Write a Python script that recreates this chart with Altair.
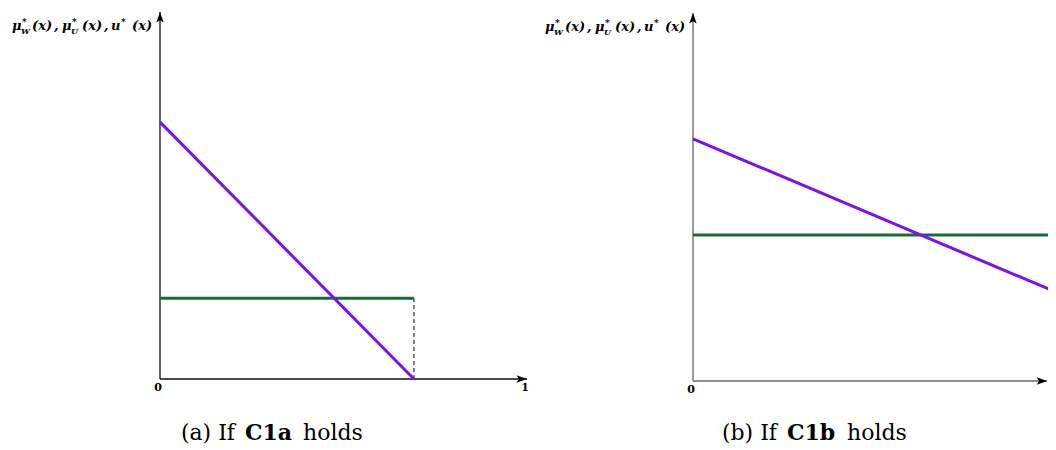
import altair as alt
import pandas as pd

# ---------------- data ----------------
# Panel (a): "If C1a holds"
a_purple_x = [0.0, 0.692]
a_purple_y = [0.700, 0.0]
a_green_x = [0.0, 0.692]
a_green_y = [0.220, 0.220]
a_dash_x = [0.692, 0.692]
a_dash_y = [0.0, 0.220]
a_tick_values = [0, 1]
a_tick_labels = ["0", "1"]
a_caption = ["(a) If", "C1a", "holds"]
a_axis_end = [1.0, 1.0]

# Panel (b): "If C1b holds"
b_purple_x = [0.0, 1.0]
b_purple_y = [0.658, 0.237]
b_green_x = [0.0, 1.0]
b_green_y = [0.397, 0.397]
b_tick_values = [0]
b_tick_labels = ["0"]
b_caption = ["(b) If", "C1b", "holds"]
b_axis_end = [0.965, 1.0]

# y-axis title pieces: (text, kind) kind: main / sup / sub
ytitle_pieces = [
    ("μ", "main"), ("*", "sup"), ("W", "sub"), ("(x)", "main"), (",", "main"),
    ("μ", "main"), ("*", "sup"), ("U", "sub"), ("(x)", "main"), (",", "main"),
    ("u", "main"), ("*", "sup"), ("(x)", "main"),
]
# horizontal offsets (px) of each piece from the y axis
ytitle_dx = [-148, -138, -139, -128, -106, -98, -88, -89, -78, -56, -49, -39, -28]

PURPLE = "#7A12EE"
GREEN = "#1B6B3A"
SERIF = "DejaVu Serif"
ARROW = "M0,0L0.7,2L0,1.55L-0.7,2Z"


def make_scales(width, height, ox, oy, sx, sy):
    xs = alt.Scale(domain=[-ox / sx, (width - ox) / sx], nice=False, zero=False)
    ys = alt.Scale(domain=[-(height - oy) / sy, oy / sy], nice=False, zero=False)
    return xs, ys


def seg(x, y, xs, ys, **style):
    df = pd.DataFrame({"x": [x[0]], "y": [y[0]], "x2": [x[1]], "y2": [y[1]]})
    return alt.Chart(df).mark_rule(clip=True, **style).encode(
        x=alt.X("x:Q", scale=xs, axis=None),
        y=alt.Y("y:Q", scale=ys, axis=None),
        x2="x2:Q",
        y2="y2:Q",
    )


def arrow(x, y, angle, color, xs, ys):
    df = pd.DataFrame({"x": [x], "y": [y]})
    return alt.Chart(df).mark_point(
        shape=ARROW, size=110, filled=True, color=color, opacity=1,
        angle=angle, strokeWidth=0, clip=True,
    ).encode(
        x=alt.X("x:Q", scale=xs, axis=None),
        y=alt.Y("y:Q", scale=ys, axis=None),
    )


def txt(s, x, y, xs, ys, **style):
    df = pd.DataFrame({"t": [s], "x": [x], "y": [y]})
    return alt.Chart(df).mark_text(**style).encode(
        x=alt.X("x:Q", scale=xs, axis=None),
        y=alt.Y("y:Q", scale=ys, axis=None),
        text="t:N",
    )


def panel(width, height, ox, oy, sx, sy, purple_x, purple_y, green_x, green_y,
          dash_x, dash_y, tick_values, tick_labels, caption, axis_end, axis_color,
          cap_dx, cap_dy, tick_dy):
    xs, ys = make_scales(width, height, ox, oy, sx, sy)
    ex, ey = axis_end
    layers = [
        seg([0, ex], [0, 0], xs, ys, color=axis_color, strokeWidth=1.3),
        seg([0, 0], [0, ey], xs, ys, color=axis_color, strokeWidth=1.3),
        arrow(ex, 0, 90, "black", xs, ys),
        arrow(0, ey, 0, "black", xs, ys),
    ]
    if dash_x is not None:
        layers.append(seg(dash_x, dash_y, xs, ys, color="black", strokeWidth=1,
                          strokeDash=[4, 3]))
    layers.append(seg(green_x, green_y, xs, ys, color=GREEN, strokeWidth=3))
    layers.append(seg(purple_x, purple_y, xs, ys, color=PURPLE, strokeWidth=3))
    # tick labels
    for v, lab in zip(tick_values, tick_labels):
        layers.append(txt(lab, v, 0, xs, ys, dx=-2, dy=tick_dy, font=SERIF,
                          fontWeight="bold", fontSize=11, baseline="middle",
                          align="center", color="black"))
    # y title
    for (s, kind), dx in zip(ytitle_pieces, ytitle_dx):
        if kind == "main":
            size, dy = 13, 18
        elif kind == "sup":
            size, dy = 9, 13
        else:
            size, dy = 8, 22
        layers.append(txt(s, 0, ey, xs, ys, dx=dx, dy=dy, font=SERIF,
                          fontStyle="italic", fontWeight="bold", fontSize=size,
                          align="left", baseline="alphabetic", color="black"))
    # caption
    layers.append(txt(caption[0], 0, 0, xs, ys, dx=cap_dx[0], dy=cap_dy, font=SERIF,
                      fontSize=22, align="right", baseline="alphabetic", color="black"))
    layers.append(txt(caption[1], 0, 0, xs, ys, dx=cap_dx[1], dy=cap_dy, font=SERIF,
                      fontSize=22, fontWeight="bold", align="left",
                      baseline="alphabetic", color="black"))
    layers.append(txt(caption[2], 0, 0, xs, ys, dx=cap_dx[2], dy=cap_dy, font=SERIF,
                      fontSize=22, align="left", baseline="alphabetic", color="black"))
    return alt.layer(*layers).properties(width=width, height=height)


pa = panel(532, 434, 152, 371, 367, 367, a_purple_x, a_purple_y, a_green_x, a_green_y,
           a_dash_x, a_dash_y, a_tick_values, a_tick_labels, a_caption, a_axis_end,
           "#111111", [75, 85, 143], 61, 9)
pb = panel(508, 434, 153, 373, 367, 368, b_purple_x, b_purple_y, b_green_x, b_green_y,
           None, None, b_tick_values, b_tick_labels, b_caption, b_axis_end,
           "#6a6a6a", [84, 94, 154], 59, 9)

chart = (
    alt.hconcat(pa, pb, spacing=0)
    .properties(padding=0)
    .configure_view(stroke=None)
)

chart.save("out.html", embed_options={"renderer": "svg", "actions": False})
